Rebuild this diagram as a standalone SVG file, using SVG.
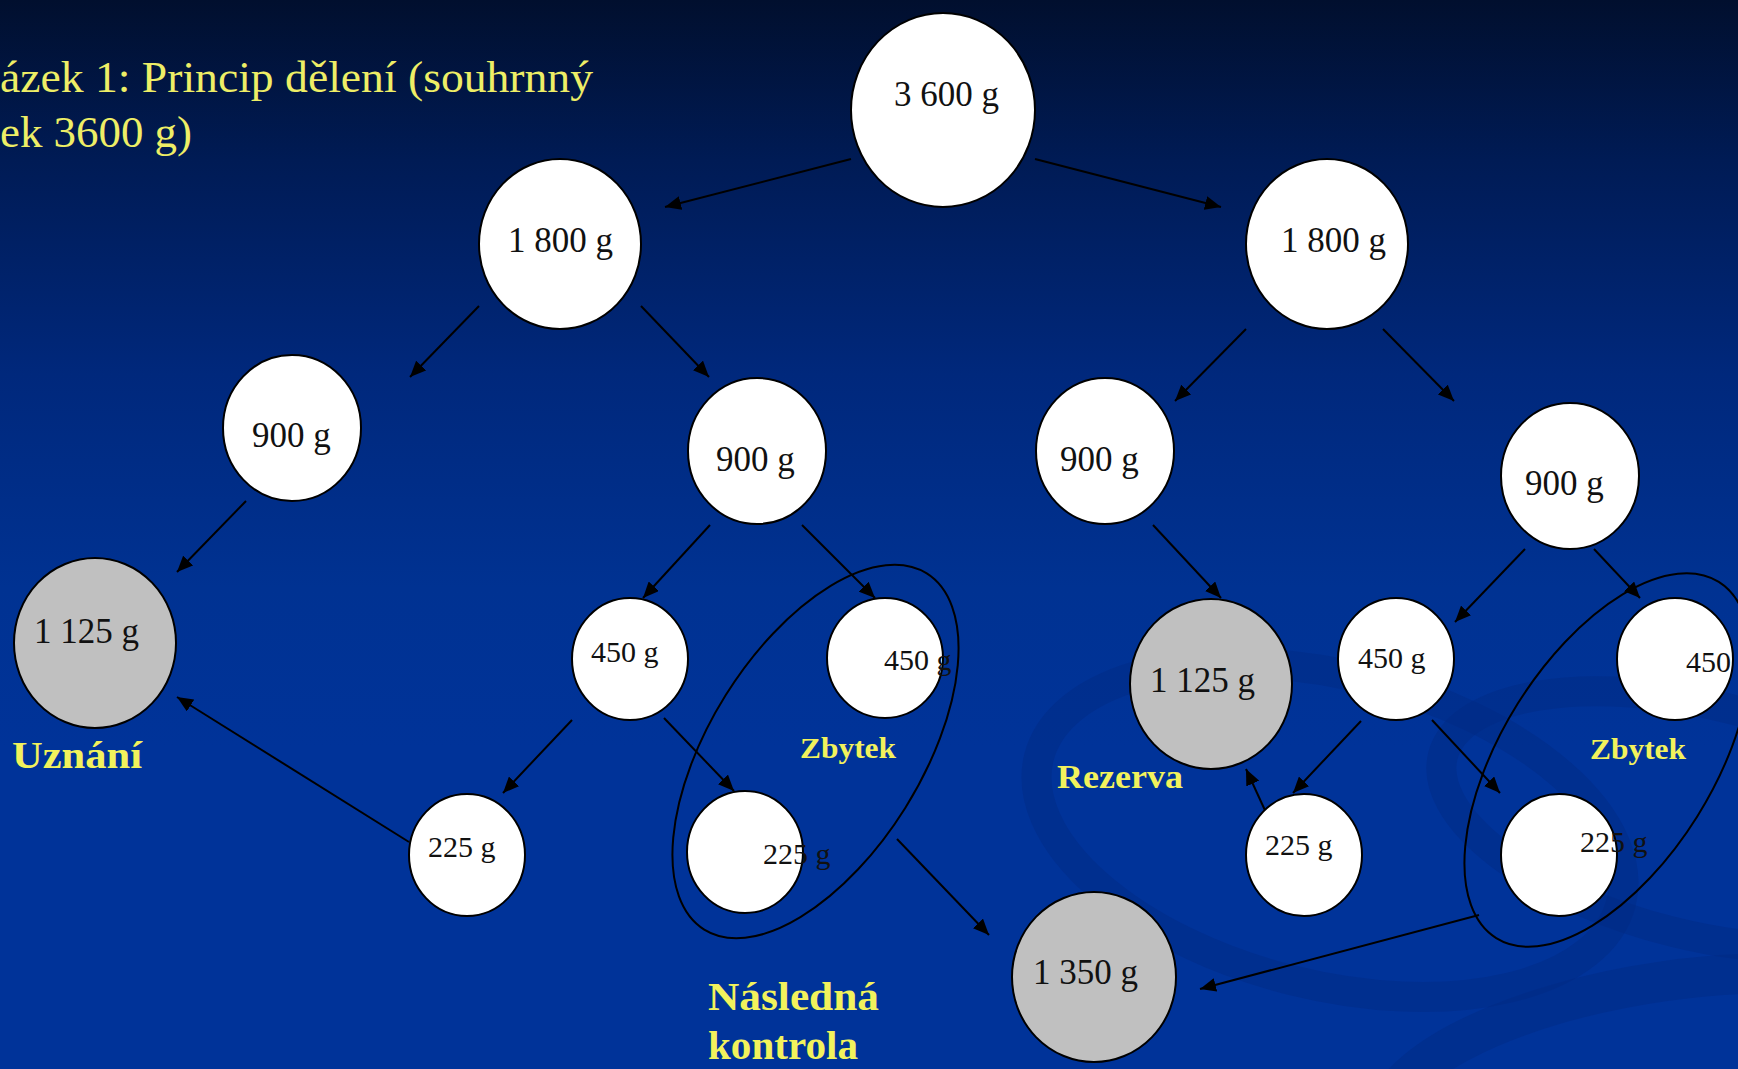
<svg xmlns="http://www.w3.org/2000/svg" width="1738" height="1069" viewBox="0 0 1738 1069">
  <defs>
    <linearGradient id="bg" x1="0" y1="0" x2="0" y2="1">
      <stop offset="0" stop-color="#010f2e"/>
      <stop offset="0.15" stop-color="#001b55"/>
      <stop offset="0.35" stop-color="#00287c"/>
      <stop offset="0.55" stop-color="#003292"/>
      <stop offset="0.7" stop-color="#003399"/>
      <stop offset="1" stop-color="#003399"/>
    </linearGradient>
    <marker id="head" markerUnits="userSpaceOnUse" markerWidth="17" markerHeight="14" refX="16" refY="7" orient="auto">
      <path d="M0,0 L16,7 L0,14 z" fill="#000"/>
    </marker>
    <style>
      .node { stroke: #000; stroke-width: 2; }
      .white { fill: #fff; }
      .grey { fill: #c0c0c0; }
      .val { font-family: "Liberation Serif", "Times New Roman", serif; fill: #111; }
      .big { font-size: 35px; }
      .small { font-size: 30px; }
      .label { font-family: "Liberation Serif", "Times New Roman", serif; font-weight: bold; fill: #f2f25c; }
      .title { font-family: "Liberation Serif", "Times New Roman", serif; font-size: 45px; fill: #eeee66; }
      .edge { stroke: #000; stroke-width: 2; fill: none; marker-end: url(#head); }
      .group { stroke: #000; stroke-width: 2; fill: none; }
      .swirl { fill: none; stroke: #002a82; opacity: 0.45; }
    </style>
  </defs>

  <!-- backdrop -->
  <rect x="0" y="0" width="1738" height="1069" fill="url(#bg)"/>
  <g id="backdrop">
    <ellipse class="swirl" cx="1330" cy="830" rx="300" ry="155" transform="rotate(14 1330 830)" stroke-width="30"/>
    <ellipse class="swirl" cx="1700" cy="820" rx="265" ry="115" transform="rotate(14 1700 820)" stroke-width="30"/>
    <ellipse class="swirl" cx="1680" cy="1090" rx="300" ry="110" transform="rotate(-8 1680 1090)" stroke-width="40"/>
  </g>

  <!-- caption -->
  <g id="caption">
    <text class="title" x="0" y="92" textLength="593" lengthAdjust="spacingAndGlyphs">ázek 1: Princip dělení (souhrnný</text>
    <text class="title" x="0" y="147" textLength="192" lengthAdjust="spacingAndGlyphs">ek 3600 g)</text>
  </g>

  <!-- connectors -->
  <g id="connectors">
    <line class="edge" x1="851" y1="159" x2="665" y2="207"/>
    <line class="edge" x1="1035" y1="159" x2="1221" y2="207"/>
    <line class="edge" x1="479" y1="306" x2="410" y2="377"/>
    <line class="edge" x1="641" y1="306" x2="709" y2="377"/>
    <line class="edge" x1="1246" y1="329" x2="1175" y2="401"/>
    <line class="edge" x1="1383" y1="329" x2="1454" y2="401"/>
    <line class="edge" x1="246" y1="501" x2="177" y2="572"/>
    <line class="edge" x1="710" y1="525" x2="643" y2="598"/>
    <line class="edge" x1="802" y1="525" x2="875" y2="598"/>
    <line class="edge" x1="1153" y1="525" x2="1221" y2="598"/>
    <line class="edge" x1="1525" y1="549" x2="1455" y2="622"/>
    <line class="edge" x1="1594" y1="549" x2="1640" y2="598"/>
    <line class="edge" x1="572" y1="720" x2="503" y2="793"/>
    <line class="edge" x1="664" y1="718" x2="734" y2="791"/>
    <line class="edge" x1="1361" y1="721" x2="1293" y2="793"/>
    <line class="edge" x1="1432" y1="720" x2="1500" y2="793"/>
    <line class="edge" x1="409" y1="842" x2="177" y2="697"/>
    <line class="edge" x1="1269" y1="819" x2="1246" y2="769"/>
    <line class="edge" x1="897" y1="839" x2="989" y2="935"/>
    <line class="edge" x1="1479" y1="915" x2="1200" y2="989"/>
  </g>

  <!-- sample nodes -->
  <g id="n-3600">
    <ellipse class="node white" cx="943" cy="110" rx="92" ry="97"/>
    <text class="val big" x="894" y="106">3 600 g</text>
  </g>
  <g id="n-1800-left">
    <ellipse class="node white" cx="560" cy="244" rx="81" ry="85"/>
    <text class="val big" x="508" y="252">1 800 g</text>
  </g>
  <g id="n-1800-right">
    <ellipse class="node white" cx="1327" cy="244" rx="81" ry="85"/>
    <text class="val big" x="1281" y="252">1 800 g</text>
  </g>
  <g id="n-900-a">
    <ellipse class="node white" cx="292" cy="428" rx="69" ry="73"/>
    <text class="val big" x="252" y="447">900 g</text>
  </g>
  <g id="n-900-b">
    <ellipse class="node white" cx="757" cy="451" rx="69" ry="73"/>
    <text class="val big" x="716" y="471">900 g</text>
  </g>
  <g id="n-900-c">
    <ellipse class="node white" cx="1105" cy="451" rx="69" ry="73"/>
    <text class="val big" x="1060" y="471">900 g</text>
  </g>
  <g id="n-900-d">
    <ellipse class="node white" cx="1570" cy="476" rx="69" ry="73"/>
    <text class="val big" x="1525" y="495">900 g</text>
  </g>
  <g id="n-1125-uznani">
    <ellipse class="node grey" cx="95" cy="643" rx="81" ry="85"/>
    <text class="val big" x="34" y="643">1 125 g</text>
  </g>
  <g id="n-450-a">
    <ellipse class="node white" cx="630" cy="659" rx="58" ry="61"/>
    <text class="val small" x="591" y="662">450 g</text>
  </g>
  <g id="n-450-b">
    <ellipse class="node white" cx="885" cy="658" rx="58" ry="60"/>
    <text class="val small" x="884" y="670">450 g</text>
  </g>
  <g id="n-225-a">
    <ellipse class="node white" cx="467" cy="855" rx="58" ry="61"/>
    <text class="val small" x="428" y="857">225 g</text>
  </g>
  <g id="n-225-b">
    <ellipse class="node white" cx="745" cy="852" rx="58" ry="61"/>
    <text class="val small" x="763" y="864">225 g</text>
  </g>
  <g id="n-1350">
    <ellipse class="node grey" cx="1094" cy="977" rx="82" ry="85"/>
    <text class="val big" x="1033" y="984">1 350 g</text>
  </g>
  <g id="n-1125-rezerva">
    <ellipse class="node grey" cx="1211" cy="684" rx="81" ry="85"/>
    <text class="val big" x="1150" y="692">1 125 g</text>
  </g>
  <g id="n-450-c">
    <ellipse class="node white" cx="1396" cy="659" rx="58" ry="61"/>
    <text class="val small" x="1358" y="668">450 g</text>
  </g>
  <g id="n-450-d">
    <ellipse class="node white" cx="1675" cy="659" rx="58" ry="61"/>
    <text class="val small" x="1686" y="672">450</text>
  </g>
  <g id="n-225-c">
    <ellipse class="node white" cx="1304" cy="855" rx="58" ry="61"/>
    <text class="val small" x="1265" y="855">225 g</text>
  </g>
  <g id="n-225-d">
    <ellipse class="node white" cx="1559" cy="855" rx="58" ry="61"/>
    <text class="val small" x="1580" y="852">225 g</text>
  </g>

  <!-- remainder groupings -->
  <g id="zbytek-left">
    <ellipse class="group" cx="815.5" cy="751.5" rx="210" ry="106" transform="rotate(-58 815.5 751.5)"/>
    <text class="label" x="800" y="758" font-size="30" textLength="96" lengthAdjust="spacingAndGlyphs">Zbytek</text>
  </g>
  <g id="zbytek-right">
    <ellipse class="group" cx="1607.5" cy="760" rx="210" ry="106" transform="rotate(-58 1607.5 760)"/>
    <text class="label" x="1590" y="759" font-size="30" textLength="96" lengthAdjust="spacingAndGlyphs">Zbytek</text>
  </g>

  <!-- outcome labels -->
  <g id="labels">
    <text class="label" x="12" y="768" font-size="38" textLength="130" lengthAdjust="spacingAndGlyphs">Uznání</text>
    <text class="label" x="1057" y="788" font-size="33" textLength="126" lengthAdjust="spacingAndGlyphs">Rezerva</text>
    <text class="label" x="708" y="1010" font-size="40" textLength="171" lengthAdjust="spacingAndGlyphs">Následná</text>
    <text class="label" x="708" y="1059" font-size="40" textLength="150" lengthAdjust="spacingAndGlyphs">kontrola</text>
  </g>
</svg>
